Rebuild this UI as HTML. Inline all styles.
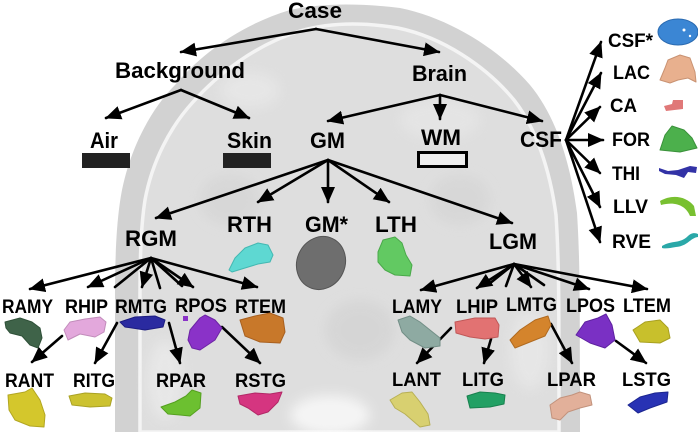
<!DOCTYPE html>
<html><head><meta charset="utf-8"><style>
html,body{margin:0;padding:0;background:#fff;}
svg{display:block;}
text{font-family:"Liberation Sans",Arial,sans-serif;font-weight:bold;fill:#000;}
</style></head><body>
<svg width="698" height="432" viewBox="0 0 698 432" xmlns="http://www.w3.org/2000/svg">
<defs>
<marker id="a" markerUnits="userSpaceOnUse" markerWidth="16" markerHeight="14" refX="15" refY="7" orient="auto" viewBox="0 0 16 14"><path d="M0,0 L16,7 L0,14 z" fill="#000"/></marker>
<filter id="b" x="-50%" y="-50%" width="200%" height="200%"><feGaussianBlur stdDeviation="6"/></filter>
</defs>
<rect width="698" height="432" fill="#fff"/>
<!-- head background -->
<path d="M115,432 L115,300 C115,250 117,216 122,190 C130,150 150,110 175,85 C200,55 240,25 290,10 C320,3 360,3 400,8 C450,18 500,50 530,85 C555,115 570,160 577,213 C580,260 580,300 580,432 Z" fill="#d2d2d2"/>
<path d="M140,432 L140,300 C140,255 141,225 145,200 C152,162 170,127 193,102 C218,74 255,45 300,31 C328,23 362,22 398,28 C442,37 486,66 514,100 C536,128 550,170 556,215 C559,260 559,300 559,432 Z" fill="#dedede" stroke="#f4f4f4" stroke-width="3.5"/>
<g filter="url(#b)" opacity="0.8">
<ellipse cx="330" cy="415" rx="40" ry="20" fill="#fafafa"/>
<ellipse cx="250" cy="90" rx="30" ry="18" fill="#e8e8e8"/>
<ellipse cx="440" cy="120" rx="40" ry="20" fill="#e6e6e6"/>
<ellipse cx="165" cy="380" rx="18" ry="40" fill="#eaeaea"/>
<ellipse cx="530" cy="350" rx="20" ry="40" fill="#e8e8e8"/>
<ellipse cx="360" cy="330" rx="35" ry="30" fill="#d4d4d4"/>
<ellipse cx="230" cy="200" rx="30" ry="25" fill="#d6d6d6"/>
<ellipse cx="460" cy="200" rx="30" ry="25" fill="#d6d6d6"/>
</g>

<!-- connectors -->
<g stroke="#000" stroke-width="2.6" fill="none" stroke-linecap="round">
<g marker-end="url(#a)">
<path d="M316,29 L181,52"/><path d="M316,29 L439,52"/>
<path d="M181,90 L106,118"/><path d="M181,90 L249,118"/>
<path d="M440,95 L328,121"/><path d="M440,95 L440,119"/><path d="M440,95 L542,121"/>
<path d="M566,140 L601,42"/><path d="M566,140 L601,73"/><path d="M566,140 L600,107"/><path d="M566,140 L603,140"/><path d="M566,140 L600,173"/><path d="M566,140 L600,207"/><path d="M566,140 L600,242"/>
<path d="M328,160 L156,218"/><path d="M328,160 L258,202"/><path d="M328,160 L328,202"/><path d="M328,160 L389,202"/><path d="M328,160 L512,223"/>
<path d="M151,258 L30,289"/><path d="M151,258 L88,287"/><path d="M151,258 L142,287"/><path d="M151,258 L193,287"/><path d="M151,258 L257,287"/>
<path d="M62,336 L32,362"/><path d="M117,323 L95,363"/><path d="M169,323 L180,363"/><path d="M222,327 L260,363"/>
<path d="M514,264 L421,290"/><path d="M514,264 L477,288"/><path d="M514,264 L531,287"/><path d="M514,264 L589,289"/><path d="M514,264 L647,289"/>
<path d="M451,328 L417,363"/><path d="M491,339 L484,363"/><path d="M551,324 L572,363"/><path d="M616,341 L646,363"/>
</g>
<path d="M151,258 L115,287"/><path d="M151,258 L160,288"/><path d="M151,258 L182,286"/>
<path d="M514,264 L489,284"/><path d="M514,264 L506,286"/><path d="M514,264 L544,285"/>
</g>

<!-- boxes -->
<rect x="82" y="153" width="48" height="15" fill="#222"/>
<rect x="223" y="153" width="48" height="15" fill="#222"/>
<rect x="418.5" y="152.5" width="48" height="14" fill="#eee" stroke="#000" stroke-width="3"/>

<!-- labels -->
<g font-size="22">
<text x="288" y="18" textLength="54" lengthAdjust="spacingAndGlyphs">Case</text>
<text x="115" y="78" textLength="130" lengthAdjust="spacingAndGlyphs">Background</text>
<text x="412" y="81" textLength="55" lengthAdjust="spacingAndGlyphs">Brain</text>
<text x="90" y="148" textLength="28" lengthAdjust="spacingAndGlyphs">Air</text>
<text x="227" y="148" textLength="45" lengthAdjust="spacingAndGlyphs">Skin</text>
<text x="310" y="148" textLength="35" lengthAdjust="spacingAndGlyphs">GM</text>
<text x="421" y="145" textLength="40" lengthAdjust="spacingAndGlyphs">WM</text>
<text x="520" y="147" textLength="42" lengthAdjust="spacingAndGlyphs">CSF</text>
<text x="227" y="232" textLength="45" lengthAdjust="spacingAndGlyphs">RTH</text>
<text x="305" y="232" textLength="43" lengthAdjust="spacingAndGlyphs">GM*</text>
<text x="375" y="232" textLength="42" lengthAdjust="spacingAndGlyphs">LTH</text>
<text x="125" y="246" textLength="52" lengthAdjust="spacingAndGlyphs">RGM</text>
<text x="489" y="249" textLength="48" lengthAdjust="spacingAndGlyphs">LGM</text>
</g>
<g font-size="19">
<text x="2" y="313" textLength="51" lengthAdjust="spacingAndGlyphs">RAMY</text>
<text x="65" y="313" textLength="43" lengthAdjust="spacingAndGlyphs">RHIP</text>
<text x="115" y="313" textLength="52" lengthAdjust="spacingAndGlyphs">RMTG</text>
<text x="175" y="312" textLength="52" lengthAdjust="spacingAndGlyphs">RPOS</text>
<text x="235" y="313" textLength="51" lengthAdjust="spacingAndGlyphs">RTEM</text>
<text x="392" y="313" textLength="50" lengthAdjust="spacingAndGlyphs">LAMY</text>
<text x="456" y="313" textLength="42" lengthAdjust="spacingAndGlyphs">LHIP</text>
<text x="506" y="311" textLength="51" lengthAdjust="spacingAndGlyphs">LMTG</text>
<text x="566" y="312" textLength="49" lengthAdjust="spacingAndGlyphs">LPOS</text>
<text x="623" y="312" textLength="48" lengthAdjust="spacingAndGlyphs">LTEM</text>
<text x="5" y="387" textLength="49" lengthAdjust="spacingAndGlyphs">RANT</text>
<text x="73" y="387" textLength="42" lengthAdjust="spacingAndGlyphs">RITG</text>
<text x="156" y="387" textLength="50" lengthAdjust="spacingAndGlyphs">RPAR</text>
<text x="235" y="387" textLength="51" lengthAdjust="spacingAndGlyphs">RSTG</text>
<text x="392" y="386" textLength="49" lengthAdjust="spacingAndGlyphs">LANT</text>
<text x="462" y="386" textLength="42" lengthAdjust="spacingAndGlyphs">LITG</text>
<text x="547" y="386" textLength="49" lengthAdjust="spacingAndGlyphs">LPAR</text>
<text x="622" y="386" textLength="49" lengthAdjust="spacingAndGlyphs">LSTG</text>
<text x="608" y="47" textLength="45" lengthAdjust="spacingAndGlyphs">CSF*</text>
<text x="613" y="79" textLength="37" lengthAdjust="spacingAndGlyphs">LAC</text>
<text x="610" y="112" textLength="27" lengthAdjust="spacingAndGlyphs">CA</text>
<text x="612" y="146" textLength="38" lengthAdjust="spacingAndGlyphs">FOR</text>
<text x="612" y="180" textLength="28" lengthAdjust="spacingAndGlyphs">THI</text>
<text x="613" y="213" textLength="35" lengthAdjust="spacingAndGlyphs">LLV</text>
<text x="612" y="248" textLength="39" lengthAdjust="spacingAndGlyphs">RVE</text>
</g>

<!-- structure blobs -->
<g stroke-width="1" stroke-linejoin="round">
<!-- right column -->
<ellipse cx="678" cy="32" rx="20" ry="13" fill="#3b86d4" stroke="#2a6ab0"/>
<circle cx="684" cy="30" r="1.5" fill="#fff"/><circle cx="690" cy="36" r="1.2" fill="#fff"/>
<polygon points="660,80 665,68 668,60 680,55 690,58 695,72 696,82 688,78 678,80 670,83" fill="#e8b08e" stroke="#c99272"/>
<polygon points="664,106 672,104 673,100 683,100 683,109 666,111" fill="#e07878"/>
<polygon points="660,150 665,135 672,126 684,130 692,138 697,148 680,152" fill="#4cb04c" stroke="#3a913a"/>
<polygon points="659,168 668,171 678,170 690,166 697,167 696,173 688,172 684,178 676,175 665,174 659,171" fill="#3232a6"/>
<path d="M660,201 C672,194 686,196 694,206 L696,216 L690,216 C686,206 676,201 661,205 Z" fill="#78c030"/>
<path d="M662,246 C672,240 680,244 688,236 C692,232 696,233 698,234 L698,237 C690,238 688,246 676,247 C670,248 666,249 662,248 Z" fill="#2aa8a8"/>
<!-- middle -->
<polygon points="229,270 235,258 245,248 258,243 268,245 273,255 270,262 258,264 245,268 232,272" fill="#5ed8d2" stroke="#43b8b2"/>
<ellipse cx="321" cy="263" rx="24" ry="27" transform="rotate(25 321 263)" fill="#6e6e6e" stroke="#555"/>
<polygon points="378,252 383,240 395,237 402,243 406,255 412,265 410,276 395,275 385,270 378,262" fill="#62c962" stroke="#4aa94a"/>
<!-- left row 1 -->
<polygon points="5,322 20,318 32,322 40,328 42,338 38,348 30,345 22,336 10,333 6,328" fill="#3f6349" stroke="#2f5038"/>
<polygon points="64,330 70,322 85,319 100,317 106,322 104,332 95,337 80,334 68,340" fill="#e3a8dc" stroke="#c28cbb"/>
<polygon points="120,322 135,317 155,316 165,320 163,327 145,330 125,327" fill="#2a2aa0" stroke="#1c1c80"/>
<polygon points="190,330 200,318 205,315 215,320 222,328 215,340 200,350 192,348 188,340" fill="#8a32c8" stroke="#6c24a4"/>
<rect x="183" y="316" width="5" height="5" fill="#8a32c8"/>
<polygon points="240,320 255,316 270,313 283,318 285,332 280,343 260,342 245,336" fill="#c8782a" stroke="#a86020"/>
<!-- left row 2 -->
<polygon points="8,395 25,392 32,388 40,400 45,415 44,427 30,426 15,420 9,410" fill="#d4c72c" stroke="#b2a622"/>
<polygon points="69,396 85,393 105,394 112,398 110,406 90,407 72,405" fill="#ccc230" stroke="#aaa224"/>
<polygon points="161,407 175,402 186,396 192,390 201,393 200,408 190,416 180,415 168,414" fill="#6cc030" stroke="#55a020"/>
<polygon points="238,396 255,393 270,394 282,392 278,402 268,412 258,415 248,408 240,404" fill="#d53580" stroke="#b22866"/>
<!-- right row 1 -->
<polygon points="398,320 410,316 420,322 430,330 440,338 440,346 425,348 410,340 402,332" fill="#8eaaa2" stroke="#728e86"/>
<polygon points="455,322 475,318 495,318 499,325 498,337 485,339 470,337 456,333" fill="#e27272" stroke="#c05858"/>
<polygon points="510,340 520,330 535,320 548,316 551,325 545,336 530,342 515,348" fill="#d4842c" stroke="#b06a20"/>
<polygon points="576,335 585,322 598,318 606,314 612,325 615,340 605,348 590,343" fill="#7a30c4" stroke="#5e22a0"/>
<polygon points="633,330 645,322 660,320 668,328 670,338 660,343 640,342" fill="#c8c02c" stroke="#a8a020"/>
<!-- right row 2 -->
<polygon points="390,400 402,393 412,392 420,402 428,414 430,425 420,427 405,414 395,408" fill="#d8d070" stroke="#b8b055"/>
<polygon points="467,396 480,392 495,393 505,395 504,404 490,407 470,408" fill="#22a064" stroke="#18804e"/>
<polygon points="550,405 560,398 572,395 580,392 590,395 592,405 580,408 568,412 560,420 552,418" fill="#e2b09a" stroke="#c2927c"/>
<polygon points="628,405 640,397 655,393 668,392 667,402 650,408 638,413" fill="#2832b4" stroke="#1c2690"/>
</g>
</svg>
</body></html>
